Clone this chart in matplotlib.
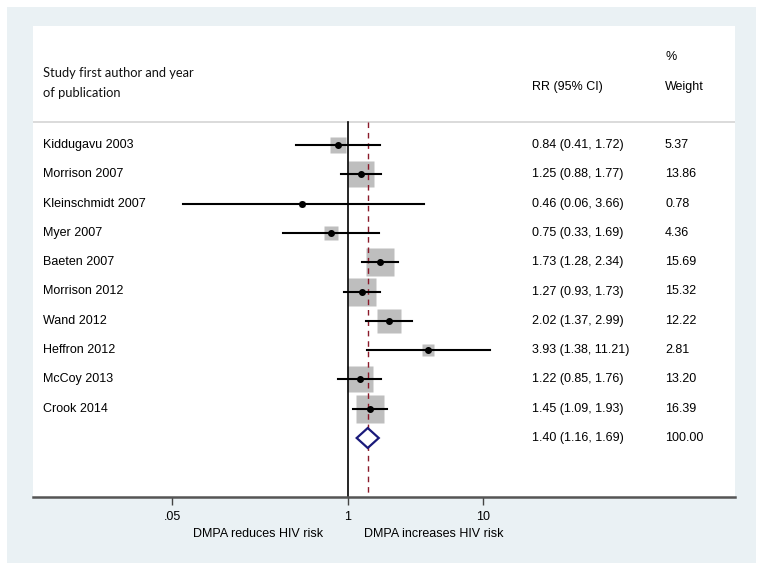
import matplotlib
matplotlib.use("Agg")
import matplotlib.pyplot as plt
import matplotlib.transforms as mtransforms
from matplotlib.patches import Rectangle, Polygon
import numpy as np

studies = ["Kiddugavu 2003", "Morrison 2007", "Kleinschmidt 2007", "Myer 2007",
           "Baeten 2007", "Morrison 2012", "Wand 2012", "Heffron 2012",
           "McCoy 2013", "Crook 2014"]
rr = [0.84, 1.25, 0.46, 0.75, 1.73, 1.27, 2.02, 3.93, 1.22, 1.45]
lo = [0.41, 0.88, 0.06, 0.33, 1.28, 0.93, 1.37, 1.38, 0.85, 1.09]
hi = [1.72, 1.77, 3.66, 1.69, 2.34, 1.73, 2.99, 11.21, 1.76, 1.93]
weights = [5.37, 13.86, 0.78, 4.36, 15.69, 15.32, 12.22, 2.81, 13.20, 16.39]
overall = (1.40, 1.16, 1.69)
overall_weight = 100.00
xticks = [0.05, 1, 10]
xticklabels = [".05", "1", "10"]

W, H = 763, 571
fig = plt.figure(figsize=(W / 100, H / 100), dpi=100)
fig.patch.set_facecolor("white")

# outer light background
fig.patches.append(Rectangle((7 / W, 1 - 563 / H), (756 - 7) / W, (563 - 7) / H,
                             transform=fig.transFigure, facecolor="#EAF1F4",
                             edgecolor="none", zorder=-10))

ax = fig.add_axes([33 / W, (H - 497) / H, (735 - 33) / W, (497 - 26) / H])
ax.set_facecolor("white")
ax.set_xscale("log")
ax.set_xlim(10 ** ((33 - 348) / 135), 10 ** ((735 - 348) / 135))
rowpx = 29.3
ax.set_ylim((497 - 145) / rowpx, (26 - 145) / rowpx)

for s in ["top", "right", "left"]:
    ax.spines[s].set_visible(False)
ax.spines["bottom"].set_color("#555555")
ax.spines["bottom"].set_linewidth(1.8)
ax.set_yticks([])
ax.set_xticks(xticks)
ax.set_xticklabels(xticklabels, fontsize=9, family="Liberation Sans")
ax.xaxis.set_minor_locator(matplotlib.ticker.NullLocator())
ax.tick_params(axis="x", length=6, width=1, color="#444444", pad=4)

sep_y = (122 - 145) / rowpx
ax.axhline(sep_y, color="#D4D4D4", lw=1.2)

ybot = (497 - 145) / rowpx
ax.plot([1, 1], [sep_y, ybot], color="black", lw=1.2, zorder=2)
ax.plot([overall[0], overall[0]], [sep_y, ybot], color="#8B1A2A", lw=1.0,
        ls=(0, (4, 3.5)), zorder=3)

rows = np.arange(len(studies))
k = 7.0 / (100 / 72)  # points per sqrt(weight)
for i, y in enumerate(rows):
    ax.plot(rr[i], y, marker="s", markersize=k * np.sqrt(weights[i]),
            color="#BEBEBE", mec="none", zorder=1)
    ax.plot([lo[i], hi[i]], [y, y], color="black", lw=1.5, zorder=4)
    ax.plot(rr[i], y, marker="o", markersize=4.0, color="black", zorder=5)

yo = len(studies)
dh = 0.34
diamond = Polygon([[overall[1], yo], [overall[0], yo - dh], [overall[2], yo],
                   [overall[0], yo + dh]], closed=True, facecolor="white",
                  edgecolor="#1A1A7A", lw=1.6, zorder=6)
ax.add_patch(diamond)

tr = mtransforms.blended_transform_factory(ax.transAxes, ax.transData)
fx = lambda px: (px - 33) / (735 - 33)
tf = dict(fontsize=9, family="Liberation Sans", va="center", color="black")
for i, y in enumerate(rows):
    ax.text(fx(43), y, studies[i], transform=tr, ha="left", **tf)
    ax.text(fx(532), y, f"{rr[i]:.2f} ({lo[i]:.2f}, {hi[i]:.2f})", transform=tr, ha="left", **tf)
    ax.text(fx(665), y, f"{weights[i]:.2f}", transform=tr, ha="left", **tf)
ax.text(fx(532), yo, f"{overall[0]:.2f} ({overall[1]:.2f}, {overall[2]:.2f})", transform=tr, ha="left", **tf)
ax.text(fx(665), yo, f"{overall_weight:.2f}", transform=tr, ha="left", **tf)

hf = dict(fontsize=9.3, family="Lato", va="center", color="#111111")
ax.text(fx(43), (73 - 145) / rowpx, "Study first author and year", transform=tr, ha="left", **hf)
ax.text(fx(43), (93 - 145) / rowpx, "of publication", transform=tr, ha="left", **hf)
ax.text(fx(532), (87 - 145) / rowpx, "RR (95% CI)", transform=tr, ha="left", **tf)
ax.text(fx(665), (57 - 145) / rowpx, "%", transform=tr, ha="left", **tf)
ax.text(fx(665), (87 - 145) / rowpx, "Weight", transform=tr, ha="left", **tf)

fig.text(323 / W, 1 - 534 / H, "DMPA reduces HIV risk", ha="right", va="center",
         fontsize=9, family="Liberation Sans")
fig.text(364 / W, 1 - 534 / H, "DMPA increases HIV risk", ha="left", va="center",
         fontsize=9, family="Liberation Sans")

fig.savefig("out.png", dpi=100)
